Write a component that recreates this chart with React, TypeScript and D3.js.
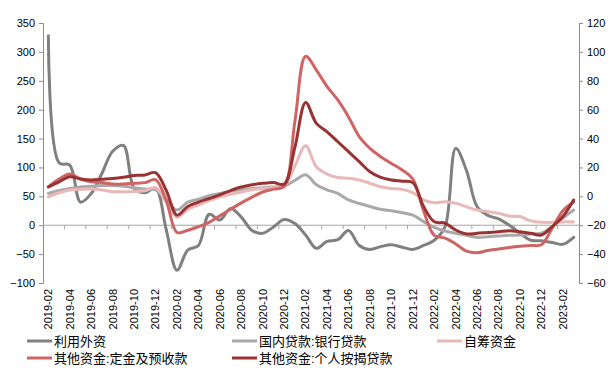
import React, { useEffect, useRef } from 'react';
import * as d3 from 'd3';

// month categories 2019-02 .. 2023-03
const months: string[] = [];
for (let y = 2019; y <= 2023; y++) {
  for (let m = 1; m <= 12; m++) {
    const key = `${y}-${String(m).padStart(2, '0')}`;
    if (key >= '2019-02' && key <= '2023-03') months.push(key);
  }
}

// left axis (%)
const foreignCapital = [
  328, 108, 104, 40, 55, 90, 128, 138, 64, 56, 64, -8, -78, -43, -35, 19, 9, 29, 14, -9,
  -14, -3, 10, 3, -17, -40, -28, -25, -9, -35, -42, -37, -34, -38, -42, -35, -26, -3, 133, 95,
  32, 17, 11, 0, -14, -26, -27, -30, -33, -21,
];

// right axis (%)
const bankLoans = [
  2, 4, 5.5, 6.5, 7, 7.5, 7.5, 7, 6, 5, 4.5, -2, -9.5, -4, -2, 0.5, 2, 3.5, 4.5, 5.5,
  6, 6.5, 7, 11, 15, 8, 4.5, 2, -2.5, -5, -7, -9, -10, -11.3, -13, -17.5, -21.5, -24, -25.5, -27,
  -28.4, -28, -27.5, -27, -26.8, -26, -25.5, -21, -15, -9.5,
];
const selfRaised = [
  -0.3, 2.5, 4.4, 4.8, 5, 4.4, 3.2, 3.2, 3.4, 3.9, 6, -4, -14.5, -9, -6, -3, -0.5, 1.5, 3, 4.5,
  5.5, 6, 7, 21, 35, 20.5, 15.4, 13, 12.5, 11.3, 9, 6.6, 5.5, 4.8, 2.5, -2.5, -4.5, -3.7, -4.8, -7.2,
  -9.5, -10.6, -11.8, -13.6, -14, -17, -18, -18, -17.7, -17.7,
];
const deposits = [
  6.6, 12, 15.4, 12, 10, 9.5, 8.5, 8.5, 9, 9.5, 11.5, -3, -25, -23.5, -21, -18, -13.5, -9, -4.5, -0.5,
  3, 5, 7, 52, 97, 87.4, 76, 66.7, 55, 41.3, 33.2, 27.4, 22.8, 18.2, 12, -10, -27, -29, -33, -38,
  -39, -37.5, -36.5, -35.5, -34.5, -34, -33.5, -22, -10, -4,
];
const mortgages = [
  6.6, 10, 13.6, 12, 11.3, 11.8, 12.3, 13.2, 14.5, 14.7, 16.4, 4, -13, -7, -4, -1.5, 1, 4, 6.5, 8,
  9, 9.5, 8.5, 34, 65, 50.5, 44.7, 37.8, 30.9, 24, 17, 13.1, 11.3, 10.5, 9.5, -7, -17.6, -18.5, -23.3, -26,
  -25.6, -25, -24.5, -23.8, -24.5, -25.6, -26.8, -21, -14, -2.6,
];

const leftTicks = [-100, -50, 0, 50, 100, 150, 200, 250, 300, 350];
const rightTicks = [-60, -40, -20, 0, 20, 40, 60, 80, 100, 120];

const series = [
  { name: '利用外资', values: foreignCapital, axis: 'left', color: '#808080' },
  { name: '国内贷款:银行贷款', values: bankLoans, axis: 'right', color: '#a9a9a9' },
  { name: '自筹资金', values: selfRaised, axis: 'right', color: '#e8b9b8' },
  { name: '其他资金:定金及预收款', values: deposits, axis: 'right', color: '#cf6464' },
  { name: '其他资金:个人按揭贷款', values: mortgages, axis: 'right', color: '#993333' },
];

const legendPos = [
  { x: 27, y: 341 },
  { x: 232, y: 341 },
  { x: 437, y: 341 },
  { x: 27, y: 358 },
  { x: 232, y: 358 },
];

export default function App() {
  const svgRef = useRef<SVGSVGElement>(null);

  useEffect(() => {
    if (!svgRef.current) return;
    const width = 613;
    const height = 370;
    const plot = { left: 43, right: 579, top: 23, bottom: 283 };
    const font = '"Liberation Sans", Arial, "Noto Sans CJK SC", sans-serif';
    const axisColor = '#8c8c8c';

    const svg = d3.select(svgRef.current);
    svg.selectAll('*').remove();
    svg.attr('width', width).attr('height', height);

    const x = d3.scaleBand().domain(months).range([plot.left, plot.right]);
    const cx = (m: string) => (x(m) || 0) + x.bandwidth() / 2;
    const yL = d3.scaleLinear().domain([-100, 350]).range([plot.bottom, plot.top]);
    const yR = d3.scaleLinear().domain([-60, 120]).range([plot.bottom, plot.top]);

    // Left axis
    const gl = svg.append('g').attr('transform', `translate(${plot.left},0)`);
    gl.call(d3.axisLeft(yL).tickValues(d3.range(-100, 351, 10)).tickSize(3).tickFormat(() => ''));
    gl.call(d3.axisLeft(yL).tickValues(leftTicks).tickSize(4).tickFormat(d3.format('d')));
    gl.selectAll('path, line').attr('stroke', axisColor);
    gl.selectAll('text').attr('fill', '#000').style('font-size', '11px').style('font-family', font).attr('x', -8);

    // Right axis
    const gr = svg.append('g').attr('transform', `translate(${plot.right},0)`);
    gr.call(d3.axisRight(yR).tickValues(d3.range(-60, 121, 4)).tickSize(3).tickFormat(() => ''));
    gr.call(d3.axisRight(yR).tickValues(rightTicks).tickSize(4).tickFormat(d3.format('d')));
    gr.selectAll('path, line').attr('stroke', axisColor);
    gr.selectAll('text').attr('fill', '#000').style('font-size', '11px').style('font-family', font).attr('x', 8);

    // Category axis on left zero
    const y0 = yL(0);
    const gx = svg.append('g');
    gx.append('line')
      .attr('x1', plot.left).attr('x2', plot.right)
      .attr('y1', y0).attr('y2', y0)
      .attr('stroke', '#a6a6a6');
    gx.selectAll('.xtick')
      .data(months.filter((_, i) => i % 2 === 0 && i > 0))
      .enter()
      .append('line')
      .attr('x1', d => x(d) || 0).attr('x2', d => x(d) || 0)
      .attr('y1', y0).attr('y2', y0 + 4)
      .attr('stroke', '#a6a6a6');

    // X labels
    svg.append('g')
      .selectAll('text')
      .data(months.filter((_, i) => i % 2 === 0))
      .enter()
      .append('text')
      .attr('transform', d => `translate(${cx(d)},289) rotate(-90)`)
      .attr('dy', '0.35em')
      .attr('text-anchor', 'end')
      .style('font-size', '11px')
      .style('font-family', font)
      .attr('fill', '#000')
      .text(d => d);

    // Lines
    series.forEach(s => {
      const y = s.axis === 'left' ? yL : yR;
      const line = d3.line<number>()
        .x((_, i) => cx(months[i]))
        .y(d => y(d))
        .curve(d3.curveCatmullRom.alpha(0.5));
      svg.append('path')
        .datum(s.values)
        .attr('d', line)
        .attr('fill', 'none')
        .attr('stroke', s.color)
        .attr('stroke-width', 3)
        .attr('stroke-linejoin', 'round')
        .attr('stroke-linecap', 'round');
    });

    // Legend
    const lg = svg.append('g');
    series.forEach((s, i) => {
      const p = legendPos[i];
      lg.append('line')
        .attr('x1', p.x).attr('x2', p.x + 25)
        .attr('y1', p.y).attr('y2', p.y)
        .attr('stroke', s.color)
        .attr('stroke-width', 3);
      lg.append('text')
        .attr('x', p.x + 27)
        .attr('y', p.y)
        .attr('dy', '0.36em')
        .style('font-size', '13px')
        .style('font-family', font)
        .attr('fill', '#000')
        .text(s.name);
    });
  }, []);

  return (
    <div style={{ position: 'fixed', left: 0, top: 0, width: 613, height: 370, background: '#fff' }}>
      <svg ref={svgRef} width={613} height={370} style={{ display: 'block' }} />
    </div>
  );
}
